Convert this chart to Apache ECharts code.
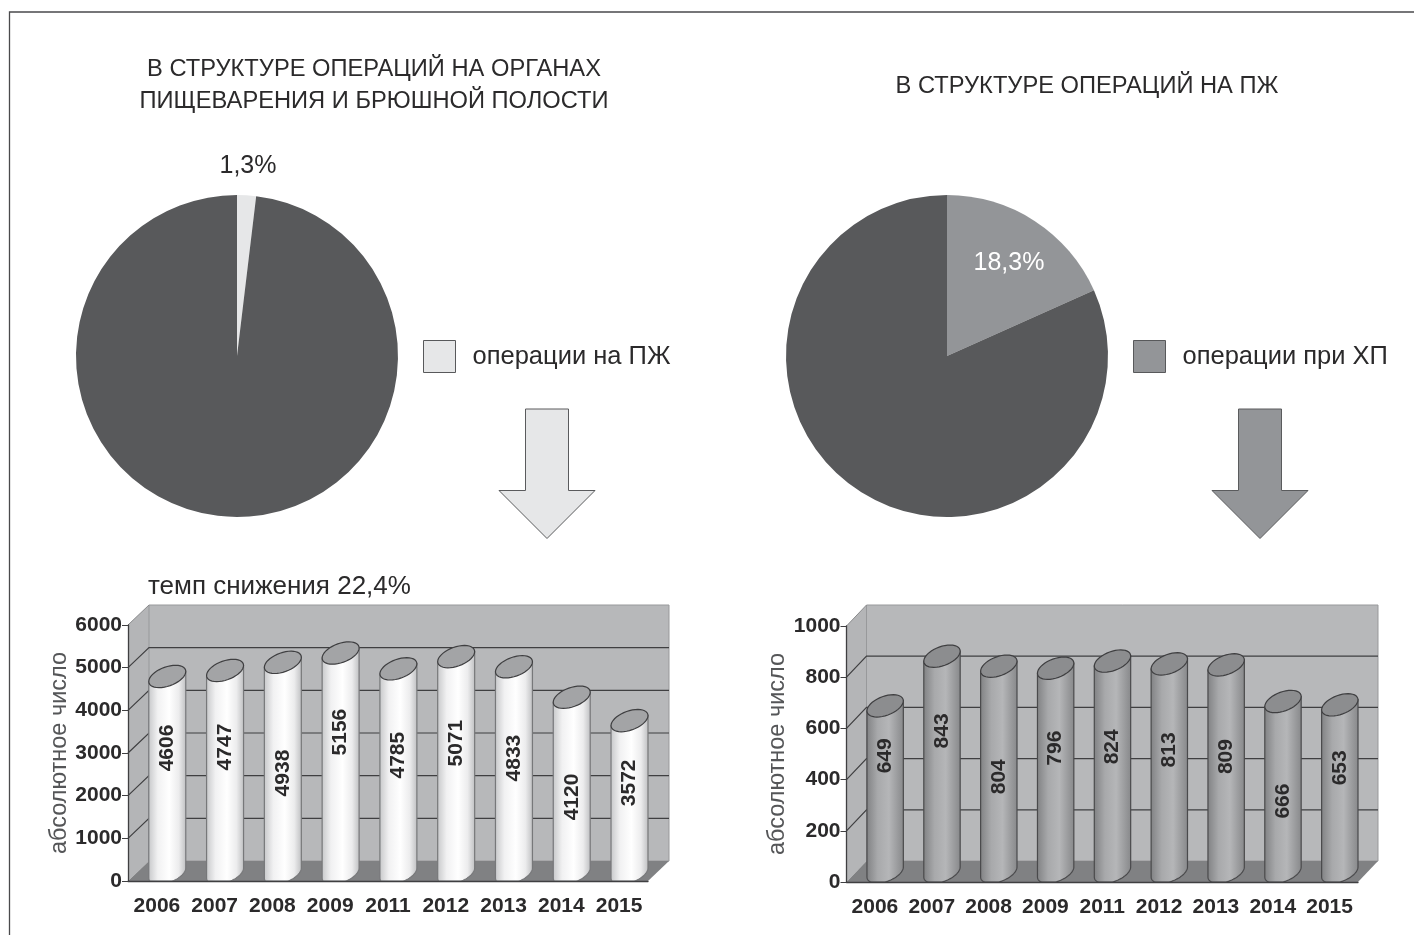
<!DOCTYPE html>
<html>
<head>
<meta charset="utf-8">
<title>Операции на ПЖ</title>
<script src="https://cdn.jsdelivr.net/npm/echarts@6/dist/echarts.min.js"></script>
<style>
  html, body { margin: 0; padding: 0; background: #fff; }
  #chart { width: 1414px; height: 935px; }
</style>
</head>
<body>
<div id="chart"></div>
<script>
const years = ["2006", "2007", "2008", "2009", "2011", "2012", "2013", "2014", "2015"];

const pancreasOps = [4606, 4747, 4938, 5156, 4785, 5071, 4833, 4120, 3572];
const chronicOps  = [649, 843, 804, 796, 824, 813, 809, 666, 653];

// height on the axis where the printed number sits on each cylinder
const pancreasLabelAt = [3117, 3140, 2530, 3490, 2950, 3230, 2880, 1970, 2300];
const chronicLabelAt  = [493, 590, 411, 523, 528, 516, 490, 316, 446];

const pancreasTicks = [0, 1000, 2000, 3000, 4000, 5000, 6000];
const chronicTicks  = [0, 200, 400, 600, 800, 1000];

// the light slice is drawn wider than its printed 1,3%, so value and text are kept apart
const leftPieNames   = ["операции на ПЖ", "другие операции"];
const leftPieValues  = [1.9, 98.1];
const leftPieLabel   = "1,3%";
const rightPieNames  = ["операции при ХП", "другие операции на ПЖ"];
const rightPieValues = [18.3, 81.7];
const rightPieLabel  = "18,3%";

const SANS = '"Liberation Sans", Arial, sans-serif';
const INK  = "#2b2a2b";
const LINE = "#3f3f41";

function wallsRenderer(ticks, dx, dy) {
  return function (params, api) {
    const top    = ticks[ticks.length - 1];
    const band   = api.size([1, 0])[0];
    const left   = api.coord([0, 0])[0] - band / 2;
    const right  = left + band * years.length;
    const y0     = api.coord([0, 0])[1];
    const yTop   = api.coord([0, top])[1];
    const children = [
      { type: "polygon", shape: { points: [[left, yTop], [left + dx, yTop - dy], [left + dx, y0 - dy], [left, y0]] },
        style: { fill: "#b4b5b7" } },
      { type: "rect", shape: { x: left + dx, y: yTop - dy, width: right - left, height: y0 - yTop },
        style: { fill: "#b7b8ba", stroke: "#98999b", lineWidth: 1 } },
      { type: "polygon", shape: { points: [[left, y0], [left + dx, y0 - dy], [right + dx, y0 - dy], [right, y0]] },
        style: { fill: "#808183" } },
    ];
    ticks.slice(1, -1).forEach(function (tick) {
      const y = api.coord([0, tick])[1];
      children.push({ type: "polyline", shape: { points: [[left, y], [left + dx, y - dy], [right + dx, y - dy]] },
        style: { fill: null, stroke: LINE, lineWidth: 1.2 } });
    });
    children.push({ type: "polyline", shape: { points: [[left, yTop], [left + dx, yTop - dy]] },
      style: { fill: null, stroke: "#8a8b8d", lineWidth: 1 } });
    return { type: "group", children };
  };
}

function cylinderRenderer(depth, bodyStops, capFill, bodyStroke) {
  return function (params, api) {
    const idx   = api.value(0);
    const front = api.coord([idx, api.value(1)]);
    const base  = api.coord([idx, 0]);
    const band  = api.size([1, 0])[0];
    const r     = band * 0.32;
    const ry    = 10;
    const skew  = 5;
    const cx    = front[0] + band / 2 - r;
    const cyTop = front[1] - depth;
    const cyBot = base[1] - depth;

    const ring = function (cy, from, to) {
      const pts = [];
      for (let i = 0; i <= 40; i++) {
        const t = from + (to - from) * i / 40;
        pts.push([cx + r * Math.cos(t), cy + ry * Math.sin(t) - skew * Math.cos(t)]);
      }
      return pts;
    };

    const bottom = ring(cyBot, Math.PI, 0).map(function (p) {
      return [p[0], Math.min(p[1], base[1])];
    });
    const body = [[cx - r, cyTop + skew]].concat(bottom, [[cx + r, cyTop - skew]]);

    const labelPos = api.coord([idx, api.value(2)]);

    return {
      type: "group",
      children: [
        { type: "polygon", shape: { points: body },
          style: {
            fill: new echarts.graphic.LinearGradient(0, 0, 1, 0, bodyStops),
            stroke: bodyStroke, lineWidth: 1.2,
          } },
        { type: "polygon", shape: { points: ring(cyTop, 0, Math.PI * 2) },
          style: { fill: capFill, stroke: LINE, lineWidth: 1.2 } },
        { type: "text", x: cx, y: labelPos[1], rotation: Math.PI / 2,
          style: {
            text: String(api.value(1)), fill: INK,
            font: "bold 21px " + SANS, textAlign: "center", textVerticalAlign: "middle",
          } },
      ],
    };
  };
}

function axesFor(gridIndex, max, interval) {
  return {
    x: {
      type: "category", gridIndex, data: years,
      axisLine: { lineStyle: { color: LINE, width: 1.3 } },
      axisTick: { length: 6, lineStyle: { color: LINE } },
      axisLabel: { color: INK, fontFamily: SANS, fontWeight: "bold", fontSize: 21, margin: 15, interval: 0 },
      z: 5,
    },
    y: {
      type: "value", gridIndex, min: 0, max, interval,
      name: "абсолютное число", nameLocation: "middle", nameGap: 55, nameRotate: 90,
      nameTextStyle: { color: "#555658", fontFamily: SANS, fontSize: 23.5 },
      axisLine: { show: true, lineStyle: { color: LINE, width: 1.3 } },
      axisTick: { show: true, length: 6, lineStyle: { color: LINE } },
      axisLabel: {
        color: INK, fontFamily: SANS, fontWeight: "bold", fontSize: 21, margin: 6,
        padding: [3, 0, 0, 0],
        formatter: function (value) { return String(value); },
      },
      splitLine: { show: false },
      z: 5,
    },
  };
}

function pieSeries(names, values, label, colors, center, labelBox) {
  return {
    type: "pie",
    center,
    radius: 161,
    startAngle: 90,
    silent: true,
    animation: false,
    labelLine: { show: false },
    labelLayout: labelBox,
    data: [
      { name: names[0], value: values[0], itemStyle: { color: colors[0] },
        label: { show: true, formatter: label, color: colors[2], fontFamily: SANS, fontSize: 25 } },
      { name: names[1], value: values[1], itemStyle: { color: colors[1] }, label: { show: false } },
    ],
  };
}

function heading(text, left, top, size, extra) {
  return Object.assign({
    text, left, top, padding: 0,
    textStyle: { color: INK, fontFamily: SANS, fontWeight: "normal", fontSize: size, lineHeight: 32 },
  }, extra || {});
}

function legendFor(name, left, top) {
  return {
    data: [name], left, top, padding: 0, itemWidth: 32, itemHeight: 32, icon: "rect",
    selectedMode: false,
    itemStyle: { borderColor: "#58595b", borderWidth: 1 },
    textStyle: { color: INK, fontFamily: SANS, fontSize: 25.5, padding: [3, 0, 0, 12] },
  };
}

function arrow(x, fill) {
  return {
    type: "polygon", silent: true,
    shape: { points: [[x - 21.5, 409], [x + 21.5, 409], [x + 21.5, 490.5], [x + 48, 490.5], [x, 538.5], [x - 48, 490.5], [x - 21.5, 490.5]] },
    style: { fill, stroke: "#5a5b5d", lineWidth: 1 },
  };
}

const leftAxes  = axesFor(0, 6000, 1000);
const rightAxes = axesFor(1, 1000, 200);

const LIGHT_BODY = [
  { offset: 0, color: "#c6c7c9" }, { offset: 0.25, color: "#f1f1f2" }, { offset: 0.55, color: "#ffffff" },
  { offset: 0.8, color: "#ececed" }, { offset: 1, color: "#bdbec0" },
];
const DARK_BODY = [
  { offset: 0, color: "#808183" }, { offset: 0.3, color: "#a8a9ab" }, { offset: 0.6, color: "#b5b6b8" },
  { offset: 0.85, color: "#98999b" }, { offset: 1, color: "#87888a" },
];

const chart = echarts.init(document.getElementById("chart"), null, { renderer: "canvas" });

chart.setOption({
  animation: false,
  backgroundColor: "#ffffff",
  title: [
    heading("В СТРУКТУРЕ ОПЕРАЦИЙ НА ОРГАНАХ\nПИЩЕВАРЕНИЯ И БРЮШНОЙ ПОЛОСТИ", 374, 53, 23.7, { textAlign: "center" }),
    heading("В СТРУКТУРЕ ОПЕРАЦИЙ НА ПЖ", 1087, 70, 23.7, { textAlign: "center" }),
    heading("темп снижения 22,4%", 148, 571, 26),
  ],
  legend: [
    legendFor(leftPieNames[0], 423, 340),
    legendFor(rightPieNames[0], 1133, 340),
  ],
  grid: [
    { left: 128, top: 625, width: 520, height: 256 },
    { left: 846.5, top: 626, width: 511.5, height: 256 },
  ],
  xAxis: [leftAxes.x, rightAxes.x],
  yAxis: [leftAxes.y, rightAxes.y],
  graphic: [
    { type: "polyline", silent: true, shape: { points: [[9.5, 935], [9.5, 12], [1414, 12]] },
      style: { fill: null, stroke: "#4a4a4c", lineWidth: 1.3 } },
    arrow(547, "#e6e7e8"),
    arrow(1260, "#939598"),
  ],
  series: [
    pieSeries(leftPieNames, leftPieValues, leftPieLabel, ["#e6e7e8", "#58595b", INK], [237, 356],
      { x: 248, y: 166, align: "center", verticalAlign: "middle" }),
    pieSeries(rightPieNames, rightPieValues, rightPieLabel, ["#939598", "#58595b", "#ffffff"], [947, 356],
      { x: 1009, y: 263, align: "center", verticalAlign: "middle" }),
    {
      type: "custom", xAxisIndex: 0, yAxisIndex: 0, silent: true, z: 1,
      renderItem: wallsRenderer(pancreasTicks, 21, 20),
      data: [[0, 0]],
    },
    {
      type: "custom", xAxisIndex: 1, yAxisIndex: 1, silent: true, z: 1,
      renderItem: wallsRenderer(chronicTicks, 20, 21),
      data: [[0, 0]],
    },
    {
      type: "custom", xAxisIndex: 0, yAxisIndex: 0, silent: true, z: 2,
      renderItem: cylinderRenderer(8, LIGHT_BODY, "#a3a4a6", "#77787a"),
      data: pancreasOps.map(function (v, i) { return [i, v, pancreasLabelAt[i]]; }),
    },
    {
      type: "custom", xAxisIndex: 1, yAxisIndex: 1, silent: true, z: 2,
      renderItem: cylinderRenderer(10, DARK_BODY, "#8c8d8f", "#4a4a4c"),
      data: chronicOps.map(function (v, i) { return [i, v, chronicLabelAt[i]]; }),
    },
  ],
});

window.addEventListener("resize", function () {
  chart.resize();
});
</script>
</body>
</html>
